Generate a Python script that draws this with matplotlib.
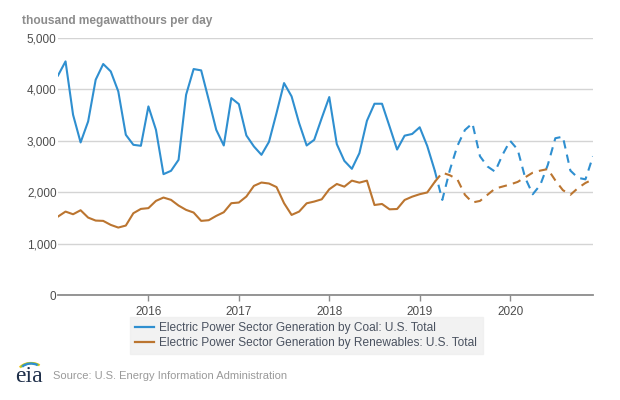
import matplotlib
matplotlib.use("Agg")
import matplotlib.pyplot as plt
from matplotlib.patches import Arc
import numpy as np

plt.rcParams['font.family'] = ['Liberation Sans', 'DejaVu Sans']

# Monthly values, Jan 2015 .. Mar 2019 (history)
coal_hist = [4270, 4545, 3506, 2968, 3377, 4188, 4494, 4350, 3961, 3117, 2922, 2903,
             3669, 3214, 2351, 2416, 2630, 3896, 4396, 4370, 3799, 3214, 2909, 3831,
             3714, 3104, 2890, 2727, 2980, 3539, 4123, 3864, 3344, 2909, 3019, 3442,
             3851, 2935, 2610, 2455, 2760, 3390, 3721, 3721, 3279, 2830, 3100, 3133,
             3263, 2900, 2420]
ren_hist = [1526, 1623, 1571, 1649, 1506, 1448, 1442, 1364, 1312, 1351, 1591, 1675,
            1690, 1831, 1896, 1851, 1740, 1656, 1604, 1442, 1455, 1539, 1610, 1786,
            1799, 1916, 2123, 2188, 2169, 2100, 1786, 1558, 1623, 1784, 1818, 1862,
            2057, 2160, 2108, 2225, 2186, 2225, 1751, 1771, 1667, 1673, 1849, 1913,
            1961, 1995, 2200]
# Forecast Mar 2019 .. Dec 2020
coal_fcst = [2420, 1850, 2430, 2900, 3210, 3340, 2700, 2500, 2400, 2730, 3000, 2830,
             2280, 1960, 2140, 2530, 3050, 3080, 2420, 2280, 2250, 2700]
ren_fcst = [2200, 2380, 2330, 2250, 1950, 1800, 1830, 1950, 2070, 2110, 2150, 2200,
            2290, 2380, 2420, 2450, 2230, 2040, 1950, 2080, 2180, 2250]

start_year = 2015
year_ticks = [2016, 2017, 2018, 2019, 2020]
y_ticks = [0, 1000, 2000, 3000, 4000, 5000]
coal_label = "Electric Power Sector Generation by Coal: U.S. Total"
ren_label = "Electric Power Sector Generation by Renewables: U.S. Total"
title = "thousand megawatthours per day"
source = "Source: U.S. Energy Information Administration"

coal_color = "#2f8fd0"
ren_color = "#bb7530"

fig = plt.figure(figsize=(6.2, 4.0), dpi=100)
ax = fig.add_axes([58/620, 1-295/400, (593-58)/620, (295-38)/400])

x_hist = start_year + np.arange(len(coal_hist)) / 12.0
x_fcst = start_year + (len(coal_hist) - 1 + np.arange(len(coal_fcst))) / 12.0

lw = 1.5
ax.plot(x_hist, coal_hist, color=coal_color, lw=lw, solid_joinstyle='round')
ax.plot(x_hist, ren_hist, color=ren_color, lw=lw, solid_joinstyle='round')
ax.plot(x_fcst, coal_fcst, color=coal_color, lw=lw, dashes=(4, 3))
ax.plot(x_fcst, ren_fcst, color=ren_color, lw=lw, dashes=(4, 3))

ax.set_xlim(start_year, start_year + (len(coal_hist) + len(coal_fcst) - 2) / 12.0)
ax.set_ylim(0, 5000)
ax.set_yticks(y_ticks)
ax.set_yticklabels([f"{v:,}" for v in y_ticks])
ax.set_xticks(year_ticks)
ax.set_xticklabels([str(y) for y in year_ticks])
ax.grid(axis='y', color='#d4d4d4', lw=1.0)
ax.set_axisbelow(True)
for s in ['left', 'right', 'top']:
    ax.spines[s].set_visible(False)
ax.spines['bottom'].set_color('#8c8c8c')
ax.spines['bottom'].set_linewidth(1.3)
ax.tick_params(axis='y', length=0, pad=1, labelsize=8.5, labelcolor='#4d4d4d')
ax.tick_params(axis='x', length=4, width=1, color='#8c8c8c', pad=4, labelsize=8.5, labelcolor='#4d4d4d')

fig.text(22/620, 1-21/400, title, fontsize=8.6, fontweight='bold', color='#8c8c8c',
         va='center', ha='left')

leg = ax.legend([plt.Line2D([], [], color=coal_color, lw=1.6),
                 plt.Line2D([], [], color=ren_color, lw=1.6)],
                [coal_label, ren_label],
                loc='upper left', bbox_to_anchor=(130/620, 1-317/400),
                bbox_transform=fig.transFigure, frameon=True, fancybox=False,
                fontsize=8.6, handlelength=1.6, handletextpad=0.4,
                labelspacing=0.2, borderpad=0.45, borderaxespad=0)
leg.get_frame().set_facecolor('#efefef')
leg.get_frame().set_edgecolor('#efefef')
for t in leg.get_texts():
    t.set_color('#4a5260')

# eia logo
fig.text(29/620, 1-377/400, "eia", fontsize=17, family='Liberation Serif',
         color='#1f2f4a', ha='center', va='center')
for r, c in enumerate(['#f2c318', '#8cc63e', '#2f8fd0']):
    arc = Arc((0, 0), 1, 1, theta1=45, theta2=150, color=c, lw=1.6)
    arc.set_transform(fig.dpi_scale_trans)
    arc.center = (31 / 100, (400 - 374 + r * 1.2) / 100)
    arc.width = (28 - r * 3) / 100
    arc.height = (22 - r * 3) / 100
    fig.add_artist(arc)

fig.text(53/620, 1-376/400, source, fontsize=8.0, color='#9a9a9a', ha='left', va='center')

fig.savefig("out.png", dpi=100)
